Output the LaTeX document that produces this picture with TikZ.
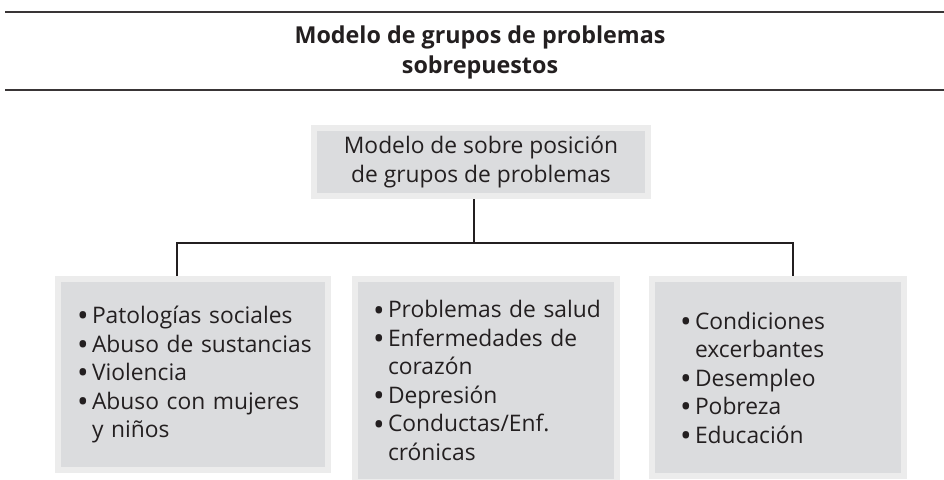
\documentclass[tikz,border=0pt]{standalone}
\usepackage{fontspec}
\setmainfont{Open Sans}
\usepackage{tikz}
\usetikzlibrary{positioning}
\usepackage{xcolor}
\definecolor{boxfill}{RGB}{219,220,222}
\definecolor{boxrim}{RGB}{236,236,236}
\definecolor{ink}{RGB}{35,31,32}
\newcommand\bul[1]{\mbox{\makebox[15pt][l]{\raisebox{-3.2pt}[0pt][0pt]{\scalebox{1.35}{\textbullet}}}#1}}
\newcommand\cnt[1]{\mbox{\hspace*{15pt}#1}}

\begin{document}
\begin{tikzpicture} [
  x = 1pt, y = -1pt,
  every node/.style = { text = ink, font = \fontsize{22.8}{28.5}\selectfont },
  box/.style = { fill = boxfill, draw = boxrim, line width = 6pt, inner sep = 0 },
  list/.style = { box, align = left },
  link/.style = { draw = ink, line width = 2.5pt },
  rule/.style = { draw = ink!90, line width = 2pt }
  ]
  \useasboundingbox (0,0) rectangle (944,479);

  \draw[rule] (5,12) -- (944,12);
  \draw[rule] (5,90) -- (944,90);
  \node[font = \bfseries\fontsize{23.3}{30}\selectfont, align = center] (title) at (480,52) {Modelo de grupos de problemas\\ sobrepuestos};

  \node[box, align = center, minimum width = 334pt, minimum height = 68pt] (root) at (481,162) {Modelo de sobre posición\\ de grupos de problemas};

  \node[list, text width = 232pt, minimum width = 270pt, minimum height = 191pt] (soc) at (193,374.5)
    {\bul{Patologías sociales}\\ \bul{Abuso de sustancias}\\ \bul{Violencia}\\ \bul{Abuso con mujeres}\\ \cnt{y niños}};
  \node[list, text width = 226pt, minimum width = 262pt, minimum height = 203pt] (sal) at (486,380.5)
    {\bul{Problemas de salud}\\ \bul{Enfermedades de}\\ \cnt{corazón}\\ \bul{Depresión}\\ \bul{Conductas/Enf.}\\ \cnt{crónicas}};
  \node[list, text width = 196pt, minimum width = 252pt, minimum height = 197pt] (cond) at (778,377.5)
    {\bul{Condiciones}\\ \cnt{excerbantes}\\ \bul{Desempleo}\\ \bul{Pobreza}\\ \bul{Educación}};

  \coordinate (fork) at (474,243);
  \draw[link] (root.south -| fork) -- (fork);
  \draw[link] ([xshift=-16pt]soc.north) |- (fork) -| ([xshift=15pt]cond.north);
\end{tikzpicture}
\end{document}
